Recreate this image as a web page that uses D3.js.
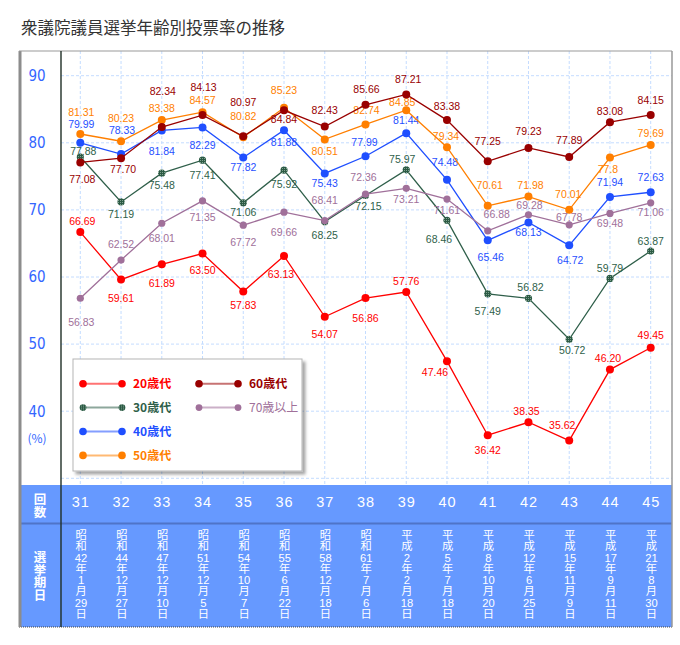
<!DOCTYPE html>
<html>
<head>
<meta charset="utf-8">
<script src="https://cdn.jsdelivr.net/npm/d3@7"></script>
<style>
	body { margin: 0; background: #fff; }
	#chart { position: relative; }
	svg { display: block; font-family: "Liberation Sans", Arial, sans-serif; }
	.date { position: absolute; writing-mode: vertical-rl; white-space: nowrap; color: #fff; transform: translateX(-50%); }
	.tcy { text-combine-upright: all; -webkit-text-combine: horizontal; font-family: "Liberation Sans Narrow", "Liberation Sans", sans-serif; }
</style>
</head>
<body>
<div id="chart"></div>
<script>

// election rounds and dates
const rounds = [31, 32, 33, 34, 35, 36, 37, 38, 39, 40, 41, 42, 43, 44, 45]
const electionDates = [
	'昭和42年1月29日', '昭和44年12月27日', '昭和47年12月10日', '昭和51年12月5日',
	'昭和54年10月7日', '昭和55年6月22日', '昭和58年12月18日', '昭和61年7月6日',
	'平成2年2月18日', '平成5年7月18日', '平成8年10月20日', '平成12年6月25日',
	'平成15年11月9日', '平成17年9月11日', '平成21年8月30日'
]
const yTicks = [90, 80, 70, 60, 50, 40]
const seriesNames = ['20歳代', '30歳代', '40歳代', '50歳代', '60歳代', '70歳以上']

// turnout by age group (%), kept as printed on the chart
const age20 = ['66.69', '59.61', '61.89', '63.50', '57.83', '63.13', '54.07', '56.86', '57.76', '47.46', '36.42', '38.35', '35.62', '46.20', '49.45']
const age30 = ['77.88', '71.19', '75.48', '77.41', '71.06', '75.92', '68.25', '72.15', '75.97', '68.46', '57.49', '56.82', '50.72', '59.79', '63.87']
const age40 = ['79.99', '78.33', '81.84', '82.29', '77.82', '81.88', '75.43', '77.99', '81.44', '74.48', '65.46', '68.13', '64.72', '71.94', '72.63']
const age50 = ['81.31', '80.23', '83.38', '84.57', '80.82', '85.23', '80.51', '82.74', '84.85', '79.34', '70.61', '71.98', '70.01', '77.8', '79.69']
const age60 = ['77.08', '77.70', '82.34', '84.13', '80.97', '84.84', '82.43', '85.66', '87.21', '83.38', '77.25', '79.23', '77.89', '83.08', '84.15']
const age70 = ['56.83', '62.52', '68.01', '71.35', '67.72', '69.66', '68.41', '72.36', '73.21', '71.61', '66.88', '69.28', '67.78', '69.48', '71.06']

// label nudges relative to each point (hand placed like the original)
const labelDy = [
	[-11, 19, 19, 17, 14, 18, 18, 20, -11, 11, 15, -11, -15, -11, -12],
	[-6, 12, 12, 15, 10, 14, 14, 11, -11, 19, 17, -11, 11, -10, -10],
	[-19, -24, 21, 18, 10, 12, 10, -14, -13, -18, 17, 10, 15, -15, -15],
	[-22, -23, -12, -12, -21, -17, 12, -14, -8, -10.5, -20, -11, -16, 11.5, -12],
	[17, 11, -36, -28, -34, 9, -16.5, -15.5, -15.5, -14, -20, -17, -17, -11, -15],
	[24, -16, 15, 16.5, 17, 20, -20, -16.5, 10.5, 11, -17, -9, -7.5, 10, 10]
]
const labelDx = [
	[2, 0, 0, 0, 0, -3, 0, 0, 0, -12, 0, -2, -7, -2, 0],
	[3, 0, 0, 0, 0, 0, 0, 3, -4, -8, 0, 2, 3, 0, 0],
	[1, 1, 0, 0, 0, 0, 0, -1, 0, -2, 3, 0, 1, 0, 0],
	[1, 0, 0, 0, 0, 0, 0, 1, -4, -1, 2, 2, -1, -2, 0],
	[2, 2, 1, 1, 0, 0, 0, 1, 2, 0, 0, 0, 0, 0, 0],
	[1, 0, 0, 0, 0, 0, 0, -2, 0, 0, 9, 1, 0, 0, 0]
]

const colors = ['#ff0000', '#2f5f4a', '#1f4fff', '#ff7f00', '#990000', '#a0709a']

const series = [age20, age30, age40, age50, age60, age70].map(function(values, i) {
	return { name: seriesNames[i], values: values, color: colors[i], dy: labelDy[i], dx: labelDx[i] }
})

/****************************************
 *
 * layout
 *
 ****************************************/

const width = 680
	, height = 645
	, frame = { left: 19, right: 672, top: 51, bottom: 627, axis: 61, plotBottom: 485, rowSplit: 523 }
	, x = d3.scalePoint().domain(rounds).range([80.3, 650.7])
	, y = d3.scaleLinear().domain([30, 90]).range([478.3, 75.7])
	, jpFont = '"Noto Sans CJK JP", "Noto Sans", sans-serif'
	, narrowFont = '"Liberation Sans Narrow", "DejaVu Sans Condensed", "Liberation Sans", sans-serif'

const svg = d3.select('#chart').append('svg')
	.attr('width', width)
	.attr('height', height)

const defs = svg.append('defs')

// speckled fill for the 30s markers
const speck = defs.append('pattern')
	.attr('id', 'speck')
	.attr('width', 2)
	.attr('height', 2)
	.attr('patternUnits', 'userSpaceOnUse')
speck.append('rect').attr('width', 2).attr('height', 2).attr('fill', '#2b5a44')
speck.append('rect').attr('width', 1).attr('height', 1).attr('fill', '#7fa08e')

defs.append('filter').attr('id', 'shadow')
	.append('feDropShadow')
	.attr('dx', 3).attr('dy', 3).attr('stdDeviation', 1.5)
	.attr('flood-color', '#000').attr('flood-opacity', .35)

// title
svg.append('text')
	.attr('x', 21)
	.attr('y', 34)
	.style('font-family', jpFont)
	.style('font-size', '16.5px')
	.attr('fill', '#333')
	.text('衆議院議員選挙年齢別投票率の推移')

// grid
const grid = svg.append('g')
	.attr('stroke', '#c4dcff')
	.attr('stroke-dasharray', '3,2')
	.attr('stroke-width', 1)

grid.selectAll('.hgrid')
	.data(yTicks.concat([30]))
	.join('line')
	.attr('class', 'hgrid')
	.attr('x1', frame.axis)
	.attr('x2', frame.right)
	.attr('y1', d => y(d))
	.attr('y2', d => y(d))

grid.selectAll('.vgrid')
	.data(rounds)
	.join('line')
	.attr('class', 'vgrid')
	.attr('x1', d => x(d))
	.attr('x2', d => x(d))
	.attr('y1', frame.top)
	.attr('y2', frame.plotBottom)

// y axis labels
const yAxis = svg.append('g')
	.attr('transform', 'translate(' + frame.axis + ',0)')
	.call(d3.axisLeft(y).tickValues(yTicks).tickSize(0).tickPadding(24))

yAxis.select('.domain').remove()
yAxis.selectAll('text')
	.attr('text-anchor', 'middle')
	.attr('fill', '#3366ff')
	.style('font-family', narrowFont)
	.style('font-size', '15px')

svg.append('text')
	.attr('x', 37)
	.attr('y', 439)
	.attr('dy', '0.35em')
	.attr('text-anchor', 'middle')
	.attr('fill', '#3366ff')
	.style('font-family', jpFont)
	.style('font-size', '12px')
	.text('(%)')

// lines, markers and value labels
const line = d3.line()
	.x((d, i) => x(rounds[i]))
	.y(d => y(+d))

const groups = svg.selectAll('.series')
	.data(series)
	.join('g')
	.attr('class', 'series')

groups.append('path')
	.attr('d', d => line(d.values))
	.attr('fill', 'none')
	.attr('stroke', d => d.color)
	.attr('stroke-width', 1.3)

groups.each(function(s, si) {
	d3.select(this).selectAll('circle')
		.data(s.values)
		.join('circle')
		.attr('cx', (d, i) => x(rounds[i]))
		.attr('cy', d => y(+d))
		.attr('r', si === 1 || si === 5 ? 3.6 : 4)
		.attr('fill', si === 1 ? 'url(#speck)' : s.color)
})

groups.each(function(s) {
	d3.select(this).selectAll('.val')
		.data(s.values)
		.join('text')
		.attr('class', 'val')
		.attr('x', (d, i) => x(rounds[i]) + s.dx[i])
		.attr('y', (d, i) => y(+d) + s.dy[i])
		.attr('dy', '0.35em')
		.attr('text-anchor', 'middle')
		.attr('fill', s.color)
		.style('font-size', '10.5px')
		.text(d => d)
})

// legend
const legend = svg.append('g')

legend.append('rect')
	.attr('x', 73)
	.attr('y', 359)
	.attr('width', 229)
	.attr('height', 112)
	.attr('fill', '#fff')
	.attr('stroke', '#b5b5b5')
	.attr('filter', 'url(#shadow)')

const legendItems = legend.selectAll('.item')
	.data(series)
	.join('g')
	.attr('class', 'item')
	.attr('transform', (d, i) => 'translate(' + (i < 4 ? 83 : 199) + ',' + (383.7 + (i % 4) * 23.9) + ')')

legendItems.append('line')
	.attr('x2', 39)
	.attr('stroke', d => d.color)
	.attr('stroke-opacity', .55)
	.attr('stroke-width', 2)

legendItems.selectAll('circle')
	.data((d, i) => [0, 39].map(cx => ({ cx: cx, s: d, i: i })))
	.join('circle')
	.attr('cx', d => d.cx)
	.attr('r', d => d.i === 1 || d.i === 5 ? 3.4 : 3.8)
	.attr('fill', d => d.i === 1 ? 'url(#speck)' : d.s.color)

legendItems.append('text')
	.attr('x', 50)
	.attr('dy', '0.35em')
	.attr('fill', d => d.color)
	.style('font-family', jpFont)
	.style('font-size', '12px')
	.style('font-weight', (d, i) => i === 5 ? 'normal' : 'bold')
	.text(d => d.name)

// bottom table
const table = svg.append('g')

table.append('rect')
	.attr('x', frame.left)
	.attr('y', frame.plotBottom)
	.attr('width', frame.right - frame.left)
	.attr('height', frame.bottom - frame.plotBottom)
	.attr('fill', '#6699ff')

table.append('line')
	.attr('x1', frame.left)
	.attr('x2', frame.right)
	.attr('y1', frame.rowSplit + .5)
	.attr('y2', frame.rowSplit + .5)
	.attr('stroke', '#4f74c8')
	.attr('stroke-width', 2)

table.append('line')
	.attr('x1', frame.left)
	.attr('x2', frame.right)
	.attr('y1', frame.bottom)
	.attr('y2', frame.bottom)
	.attr('stroke', '#444')
	.attr('stroke-dasharray', '1,1')

// stacked header characters, written top to bottom
const headers = [{ chars: '回数', y: 493 }, { chars: '選挙期日', y: 551 }]
headers.forEach(function(h) {
	table.append('text')
		.attr('x', 40)
		.attr('y', h.y)
		.attr('writing-mode', 'tb')
		.attr('fill', '#fff')
		.style('font-family', jpFont)
		.style('font-size', '12.5px')
		.style('font-weight', 'bold')
		.text(h.chars)
})

// round numbers
const roundAxis = table.append('g')
	.attr('transform', 'translate(0,' + frame.plotBottom + ')')
	.call(d3.axisBottom(x).tickSize(0).tickPadding(12))

roundAxis.select('.domain').remove()
roundAxis.selectAll('text')
	.attr('fill', '#fff')
	.style('font-size', '14.5px')
	.style('letter-spacing', '1px')

// dates: vertical text, numbers set upright in one cell
d3.select('#chart').selectAll('.date')
	.data(rounds)
	.join('div')
	.attr('class', 'date')
	.style('left', d => x(d) + 'px')
	.style('top', '529px')
	.style('font-family', jpFont)
	.style('font-size', '11.3px')
	.style('line-height', '1.2')
	.each(function(r, i) {
		const el = d3.select(this)
		electionDates[i].match(/\d+|\D+/g).forEach(function(t) {
			el.append('span')
				.attr('class', /\d/.test(t) ? 'tcy' : null)
				.text(t)
		})
	})

// frame and axis line
svg.append('line')
	.attr('x1', frame.left + 1)
	.attr('x2', frame.left + 1)
	.attr('y1', frame.top)
	.attr('y2', frame.bottom)
	.attr('stroke', '#8c8c8c')
	.attr('stroke-width', 3)

svg.append('line')
	.attr('x1', frame.left)
	.attr('x2', frame.right)
	.attr('y1', frame.top)
	.attr('y2', frame.top)
	.attr('stroke', '#999')

svg.append('line')
	.attr('x1', frame.right)
	.attr('x2', frame.right)
	.attr('y1', frame.top)
	.attr('y2', frame.bottom)
	.attr('stroke', '#999')
	.attr('stroke-width', 1.5)

svg.append('line')
	.attr('x1', frame.axis)
	.attr('x2', frame.axis)
	.attr('y1', frame.top)
	.attr('y2', frame.bottom)
	.attr('stroke', '#1f2e26')
	.attr('stroke-width', 1.4)

</script>
</body>
</html>
